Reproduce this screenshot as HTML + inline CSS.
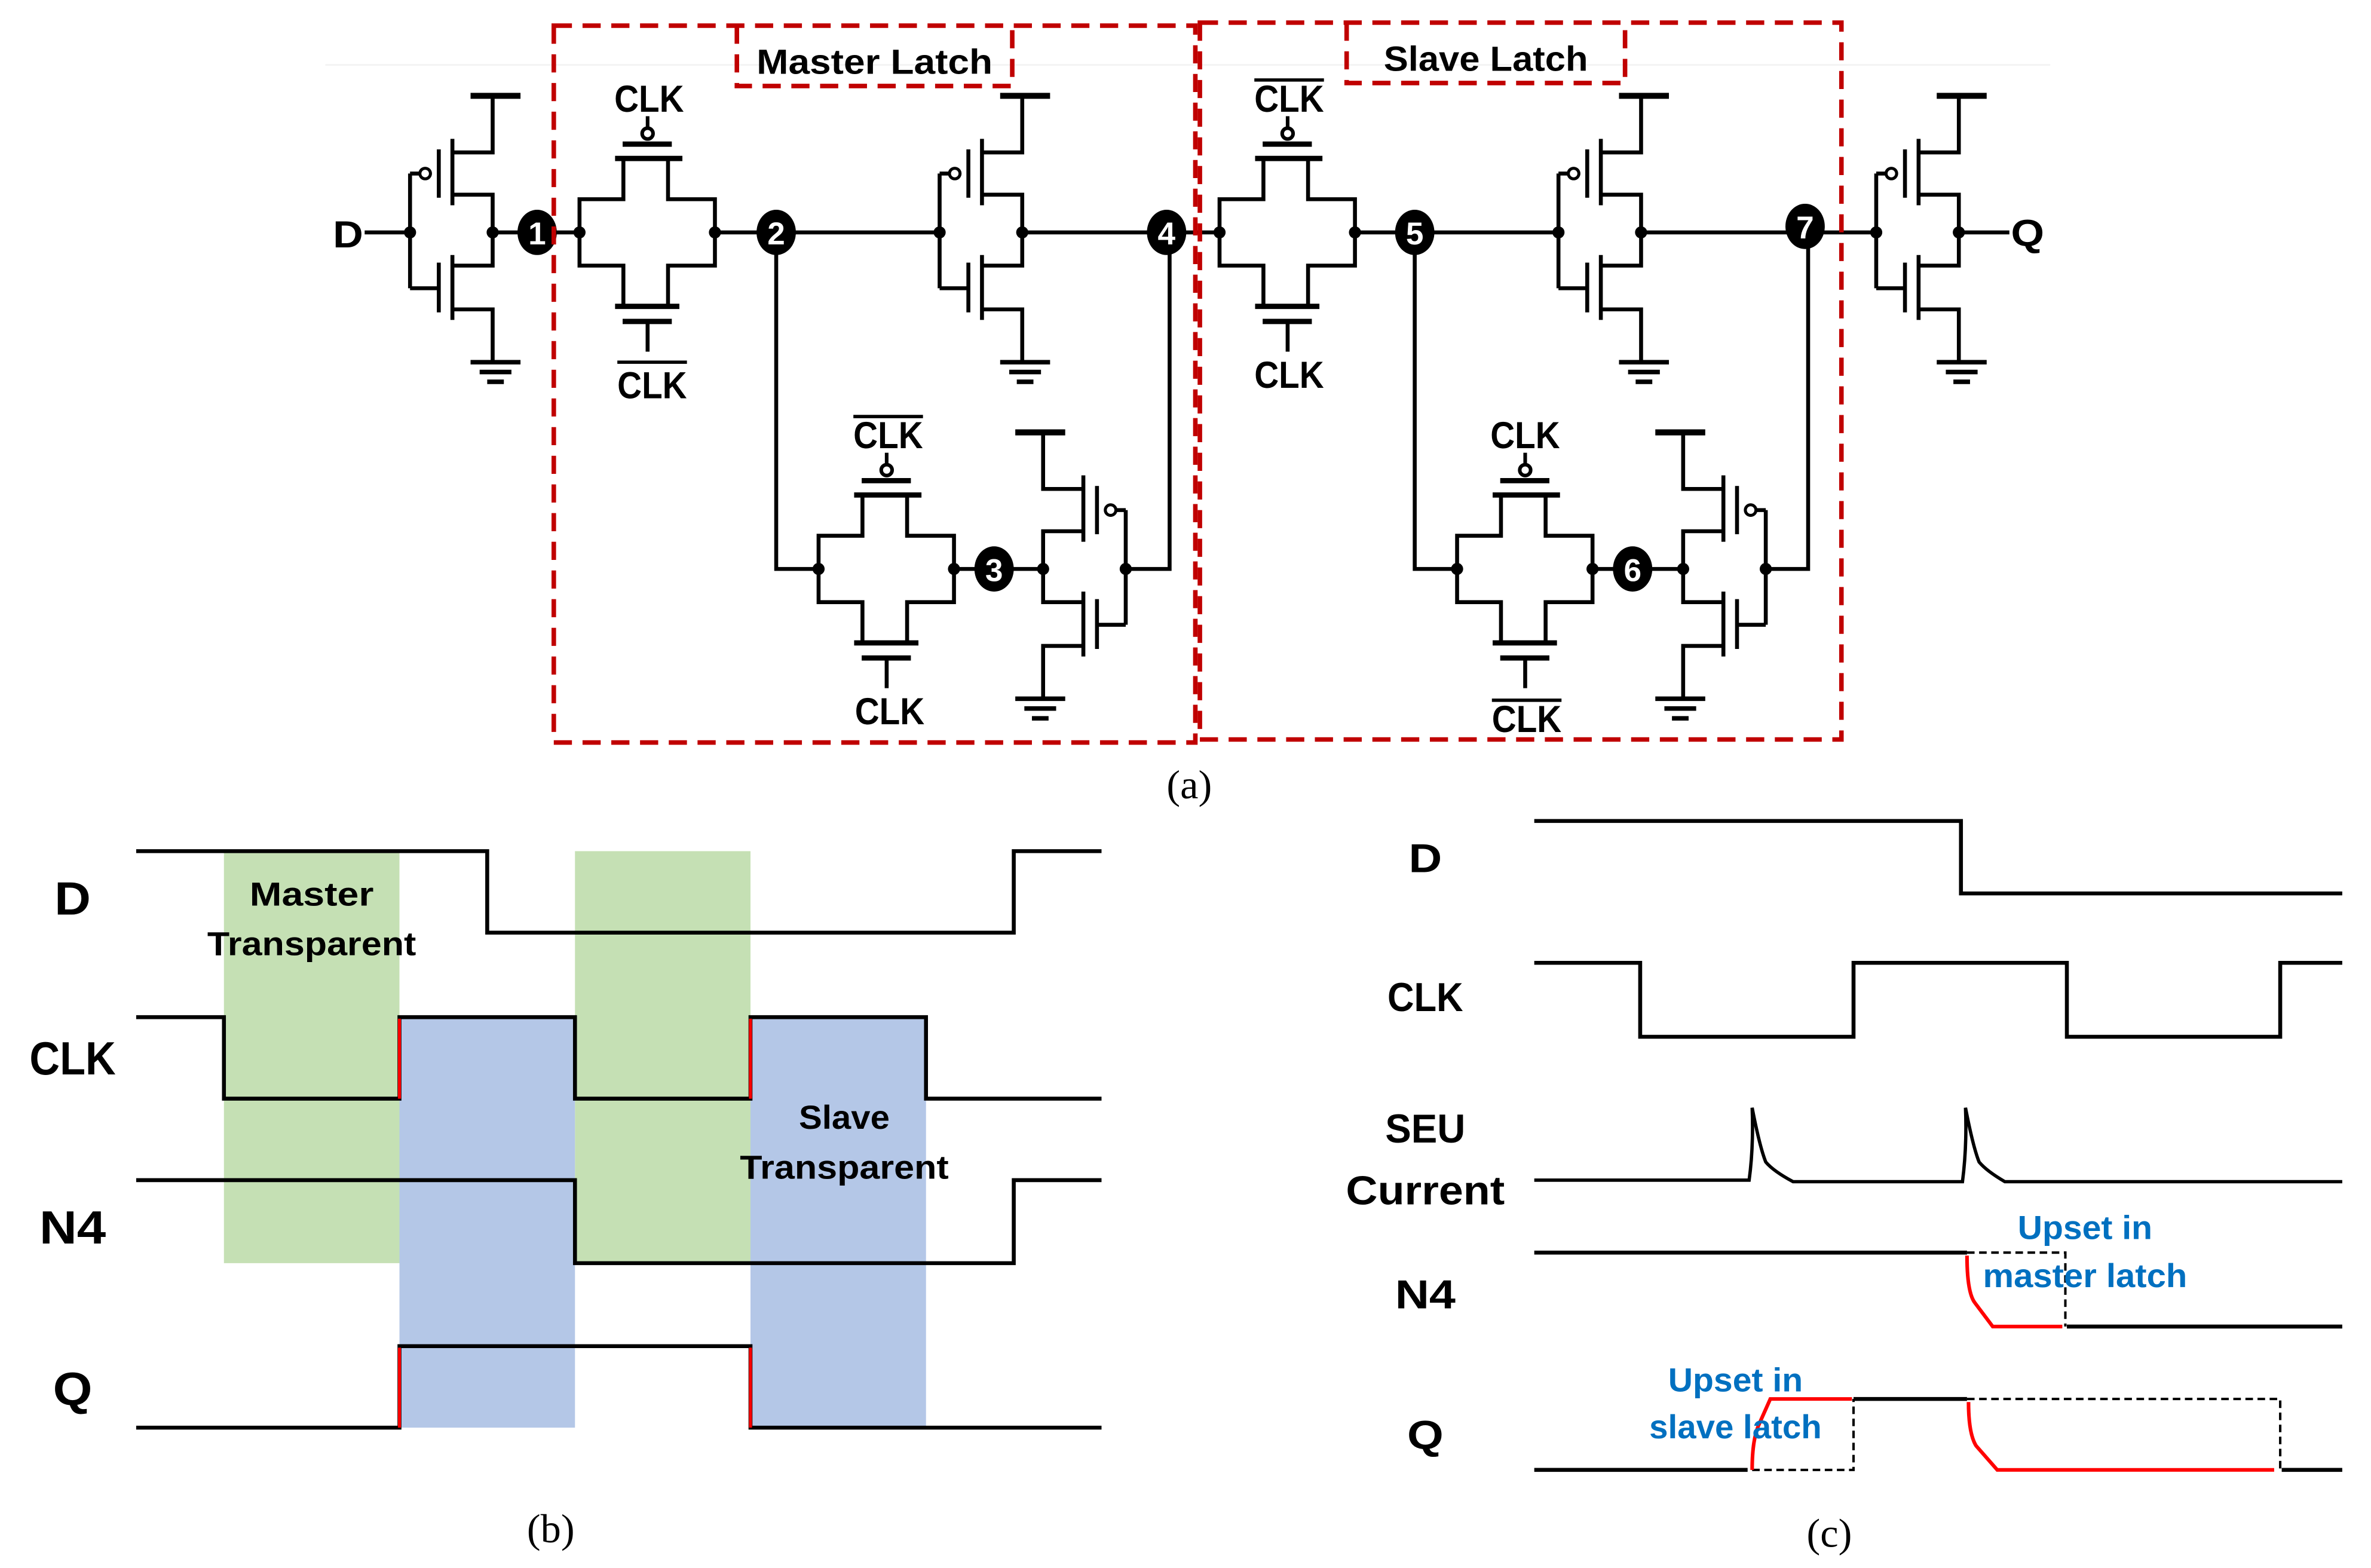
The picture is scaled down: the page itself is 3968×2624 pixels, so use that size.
<!DOCTYPE html>
<html><head><meta charset="utf-8"><style>
html,body{margin:0;padding:0;background:#fff}
svg{display:block}
</style></head><body>
<svg width="3968" height="2624" viewBox="0 0 1567 1039" preserveAspectRatio="none" xmlns="http://www.w3.org/2000/svg">
<defs>
<g id="inv" fill="none" stroke="#000" stroke-width="2.6">
  <path d="M0,-39 V37"/>
  <path d="M0,-39 H6.5"/>
  <circle cx="10" cy="-39" r="3.5" stroke-width="2"/>
  <path d="M19,-55 V-23"/>
  <path d="M28,-62 V-18"/>
  <path d="M28,-53 H54.6 V-90"/>
  <path d="M40,-90.5 H73" stroke-width="4"/>
  <path d="M28,-25 H54.6 V22 H28"/>
  <path d="M0,37 H19"/>
  <path d="M19,20 V53"/>
  <path d="M28,15 V58"/>
  <path d="M28,51 H54.6 V86"/>
  <path d="M40,86 H73" stroke-width="3"/>
  <path d="M46,92.5 H67" stroke-width="3"/>
  <path d="M51,99 H62" stroke-width="3"/>
  <circle cx="0" cy="0" r="4" fill="#000" stroke="none"/>
  <circle cx="54.6" cy="0" r="4" fill="#000" stroke="none"/>
</g>
<g id="tg" fill="none" stroke="#000" stroke-width="2.6">
  <path d="M29,-49 V-22 H0 V22 H29 V49"/>
  <path d="M58.5,-49 V-22 H89.5 V22 H58.5 V49"/>
  <path d="M23.5,-49 H68" stroke-width="3.5"/>
  <path d="M23.5,49 H66" stroke-width="3.5"/>
  <path d="M28.5,-58.5 H61" stroke-width="3.5"/>
  <path d="M28.5,59 H61" stroke-width="3.5"/>
  <path d="M45,59 V79"/>
  <circle cx="0" cy="0" r="4" fill="#000" stroke="none"/>
  <circle cx="89.5" cy="0" r="4" fill="#000" stroke="none"/>
</g>
<g id="bub" fill="none" stroke="#000" stroke-width="2.4">
  <circle cx="45" cy="-65.5" r="3.6"/>
  <path d="M45,-69 V-77"/>
</g>
</defs>

<line x1="215" y1="43" x2="1355" y2="43" stroke="#f2f2f2" stroke-width="1"/>

<g fill="none" stroke="#000" stroke-width="2.6">
  <path d="M241,154 H271"/>
  <path d="M325.6,154 H383"/>
  <path d="M472.5,154 H619.4"/>
  <path d="M674,154 H806"/>
  <path d="M513,154 V377 H541"/>
  <path d="M631,377 H687"/>
  <path d="M744,377 H773 V154"/>
  <path d="M896,154 H1030"/>
  <path d="M1085,154 H1240"/>
  <path d="M935,154 V377 H963"/>
  <path d="M1053,377 H1110"/>
  <path d="M1167,377 H1195 V154"/>
  <path d="M1295,154 H1328"/>
</g>

<use href="#inv" x="271" y="154"/>
<use href="#inv" x="621" y="154"/>
<use href="#inv" x="1030" y="154"/>
<use href="#inv" x="1240" y="154"/>
<use href="#inv" transform="translate(744,377) scale(-1,1)"/>
<use href="#inv" transform="translate(1167,377) scale(-1,1)"/>

<use href="#tg" x="383" y="154"/><use href="#bub" x="383" y="154"/>
<use href="#tg" x="806" y="154"/><use href="#bub" x="806" y="154"/>
<use href="#tg" x="541" y="377"/><use href="#bub" x="541" y="377"/>
<use href="#tg" x="963" y="377"/><use href="#bub" x="963" y="377"/>

<g font-family="Liberation Sans, sans-serif" font-weight="bold" font-size="25" fill="#000" text-anchor="middle">
  <text x="429" y="74" textLength="46" lengthAdjust="spacingAndGlyphs">CLK</text>
  <text x="431" y="264" textLength="46" lengthAdjust="spacingAndGlyphs">CLK</text>
  <text x="852" y="74" textLength="46" lengthAdjust="spacingAndGlyphs">CLK</text>
  <text x="852" y="257" textLength="46" lengthAdjust="spacingAndGlyphs">CLK</text>
  <text x="587" y="297" textLength="46" lengthAdjust="spacingAndGlyphs">CLK</text>
  <text x="588" y="480" textLength="46" lengthAdjust="spacingAndGlyphs">CLK</text>
  <text x="1008" y="297" textLength="46" lengthAdjust="spacingAndGlyphs">CLK</text>
  <text x="1009" y="485" textLength="46" lengthAdjust="spacingAndGlyphs">CLK</text>
  <text x="230" y="164" textLength="20" lengthAdjust="spacingAndGlyphs">D</text>
  <text x="1340" y="163" textLength="22" lengthAdjust="spacingAndGlyphs">Q</text>
</g>
<g stroke="#000" stroke-width="2.2">
  <path d="M408,240 H454"/>
  <path d="M829,53 H875"/>
  <path d="M564,276 H610"/>
  <path d="M986,464 H1032"/>
</g>

<g font-family="Liberation Sans, sans-serif" font-weight="bold" font-size="21" fill="#fff" text-anchor="middle">
  <ellipse cx="355" cy="154" rx="13" ry="15" fill="#000"/><text x="355" y="162">1</text>
  <ellipse cx="513" cy="154" rx="13" ry="15" fill="#000"/><text x="513" y="162">2</text>
  <ellipse cx="771" cy="154" rx="13" ry="15" fill="#000"/><text x="771" y="162">4</text>
  <ellipse cx="935" cy="154" rx="13" ry="15" fill="#000"/><text x="935" y="162">5</text>
  <ellipse cx="1193" cy="150" rx="13" ry="15" fill="#000"/><text x="1193" y="158">7</text>
  <ellipse cx="657" cy="377" rx="13" ry="15" fill="#000"/><text x="657" y="385">3</text>
  <ellipse cx="1079" cy="377" rx="13" ry="15" fill="#000"/><text x="1079" y="385">6</text>
</g>

<g fill="none" stroke="#c00000" stroke-width="3" stroke-dasharray="12,7">
  <rect x="366" y="17" width="424" height="475"/>
  <rect x="793" y="15" width="424" height="475"/>
  <path d="M487,17 V57 H669 V17"/>
  <path d="M890,15 V55 H1074 V15"/>
</g>
<g font-family="Liberation Sans, sans-serif" font-weight="bold" font-size="23" fill="#000" text-anchor="middle">
  <text x="578" y="49" textLength="156" lengthAdjust="spacingAndGlyphs">Master Latch</text>
  <text x="982" y="47" textLength="135" lengthAdjust="spacingAndGlyphs">Slave Latch</text>
</g>
<g font-family="Liberation Serif, serif" font-size="27" fill="#000" text-anchor="middle">
  <text x="786" y="529">(a)</text>
  <text x="364" y="1022">(b)</text>
  <text x="1209" y="1025">(c)</text>
</g>

<rect x="148" y="564" width="116" height="273" fill="#c5e0b4"/>
<rect x="380" y="564" width="116" height="273" fill="#c5e0b4"/>
<rect x="264" y="674" width="116" height="272" fill="#b4c7e7"/>
<rect x="496" y="674" width="116" height="272" fill="#b4c7e7"/>
<g fill="none" stroke="#000" stroke-width="2.6">
  <path d="M90,564 H322 V618 H670 V564 H728"/>
  <path d="M90,674 H148 V728 H264 V674 H380 V728 H496 V674 H612 V728 H728"/>
  <path d="M90,782 H380 V837 H670 V782 H728"/>
  <path d="M90,946 H264 V892 H496 V946 H728"/>
</g>
<g stroke="#ff0000" stroke-width="2">
  <path d="M264,675 V728"/><path d="M496,675 V728"/>
  <path d="M264,893 V946"/><path d="M496,893 V946"/>
</g>
<g font-family="Liberation Sans, sans-serif" font-weight="bold" fill="#000" text-anchor="middle">
  <text x="48" y="606" font-size="31" textLength="24" lengthAdjust="spacingAndGlyphs">D</text>
  <text x="48" y="712" font-size="31" textLength="57" lengthAdjust="spacingAndGlyphs">CLK</text>
  <text x="48" y="824" font-size="31" textLength="44" lengthAdjust="spacingAndGlyphs">N4</text>
  <text x="48" y="931" font-size="31" textLength="26" lengthAdjust="spacingAndGlyphs">Q</text>
  <text x="206" y="600" font-size="22" textLength="82" lengthAdjust="spacingAndGlyphs">Master</text>
  <text x="206" y="633" font-size="22" textLength="138" lengthAdjust="spacingAndGlyphs">Transparent</text>
  <text x="558" y="748" font-size="22" textLength="60" lengthAdjust="spacingAndGlyphs">Slave</text>
  <text x="558" y="781" font-size="22" textLength="138" lengthAdjust="spacingAndGlyphs">Transparent</text>
</g>

<g fill="none" stroke="#000" stroke-width="2.6">
  <path d="M1014,544 H1296 V592 H1548"/>
  <path d="M1014,638 H1084 V687 H1225 V638 H1366 V687 H1507 V638 H1548"/>
  <path d="M1014,782 H1156 Q1159,760 1158,734 Q1163,760 1167,770 Q1172,776 1185,783 H1297 Q1300,760 1299,734 Q1304,760 1308,770 Q1313,776 1325,783 H1548" stroke-width="2.2"/>
  <path d="M1014,830 H1300"/>
  <path d="M1366,879 H1548"/>
  <path d="M1014,974 H1155"/>
  <path d="M1225,927 H1300"/>
  <path d="M1508,974 H1548"/>
</g>
<g fill="none" stroke="#000" stroke-width="1.6" stroke-dasharray="5,3">
  <path d="M1300,830 H1365 V879"/>
  <path d="M1158,974 H1225 V927"/>
  <path d="M1300,927 H1507 V974"/>
</g>
<g fill="none" stroke="#ff0000" stroke-width="2.4">
  <path d="M1300,832 Q1300,856 1305,863 L1317,879 H1363"/>
  <path d="M1158,974 Q1158,955 1162,945 L1170,927 H1224"/>
  <path d="M1301,929 Q1301,950 1306,958 L1320,974 H1503"/>
</g>
<g font-family="Liberation Sans, sans-serif" font-weight="bold" fill="#000" text-anchor="middle" font-size="27">
  <text x="942" y="578" textLength="22" lengthAdjust="spacingAndGlyphs">D</text>
  <text x="942" y="670" textLength="50" lengthAdjust="spacingAndGlyphs">CLK</text>
  <text x="942" y="757" textLength="53" lengthAdjust="spacingAndGlyphs">SEU</text>
  <text x="942" y="798" textLength="105" lengthAdjust="spacingAndGlyphs">Current</text>
  <text x="942" y="867" textLength="40" lengthAdjust="spacingAndGlyphs">N4</text>
  <text x="942" y="960" textLength="24" lengthAdjust="spacingAndGlyphs">Q</text>
</g>
<g font-family="Liberation Sans, sans-serif" font-weight="bold" fill="#0070c0" text-anchor="middle" font-size="22">
  <text x="1378" y="821" textLength="89" lengthAdjust="spacingAndGlyphs">Upset in</text>
  <text x="1378" y="853" textLength="135" lengthAdjust="spacingAndGlyphs">master latch</text>
  <text x="1147" y="922" textLength="89" lengthAdjust="spacingAndGlyphs">Upset in</text>
  <text x="1147" y="953" textLength="114" lengthAdjust="spacingAndGlyphs">slave latch</text>
</g>
</svg>
</body></html>
